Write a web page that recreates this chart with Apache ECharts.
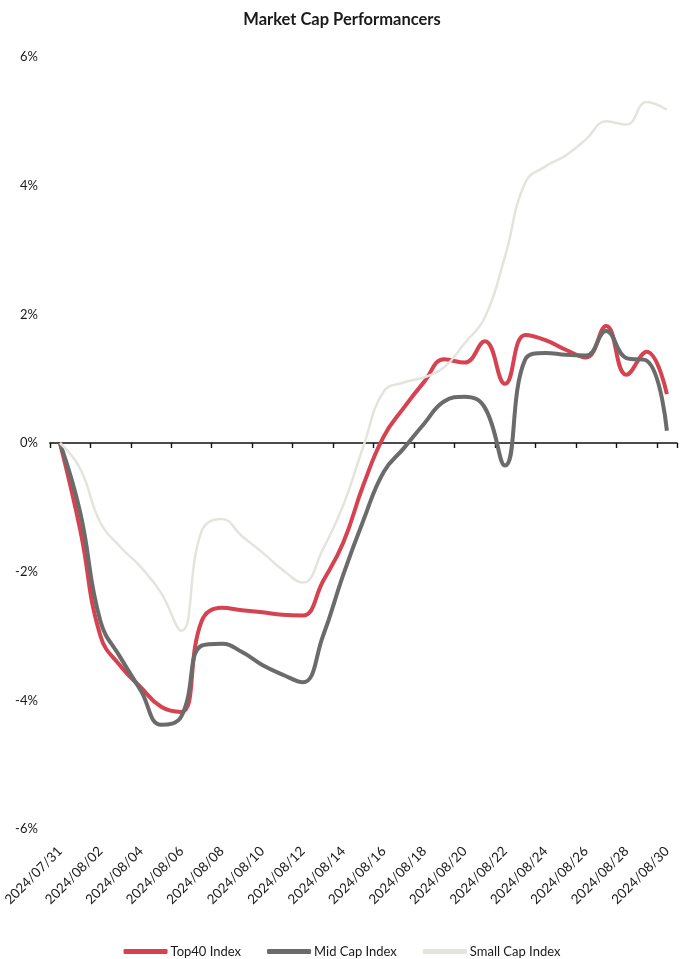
<!DOCTYPE html>
<html>
<head>
<meta charset="utf-8">
<title>Market Cap Performancers</title>
<script src="https://cdn.jsdelivr.net/npm/echarts@6/dist/echarts.min.js"></script>
<style>
  html, body { margin: 0; padding: 0; background: #ffffff; }
  #chart { width: 684px; height: 959px; }
</style>
</head>
<body>
<div id="chart"></div>
<script>
// Trading-period dates (daily)
const dates = [
  '2024/07/31', '2024/08/01', '2024/08/02', '2024/08/03', '2024/08/04',
  '2024/08/05', '2024/08/06', '2024/08/07', '2024/08/08', '2024/08/09',
  '2024/08/10', '2024/08/11', '2024/08/12', '2024/08/13', '2024/08/14',
  '2024/08/15', '2024/08/16', '2024/08/17', '2024/08/18', '2024/08/19',
  '2024/08/20', '2024/08/21', '2024/08/22', '2024/08/23', '2024/08/24',
  '2024/08/25', '2024/08/26', '2024/08/27', '2024/08/28', '2024/08/29',
  '2024/08/30'
];

// Cumulative performance, %
const top40 = [
  0.00, -1.35, -3.00, -3.47, -3.80,
  -4.10, -4.18, -2.77, -2.56, -2.60,
  -2.63, -2.67, -2.68, -2.15, -1.55,
  -0.65, 0.10, 0.55, 0.95, 1.30,
  1.25, 1.58, 0.92, 1.68, 1.60,
  1.45, 1.33, 1.82, 1.06, 1.42,
  0.76
];
const midCap = [
  0.00, -1.08, -2.77, -3.34, -3.85,
  -4.38, -4.25, -3.15, -3.12, -3.25,
  -3.45, -3.60, -3.72, -3.00, -2.05,
  -1.20, -0.45, -0.08, 0.30, 0.65,
  0.72, 0.55, -0.35, 1.30, 1.40,
  1.37, 1.36, 1.74, 1.32, 1.28,
  0.19
];
const smallCap = [
  0.00, -0.40, -1.24, -1.62, -1.93,
  -2.33, -2.92, -1.37, -1.18, -1.45,
  -1.70, -1.97, -2.17, -1.65, -0.97,
  -0.05, 0.80, 0.94, 1.02, 1.18,
  1.55, 1.95, 2.90, 4.05, 4.30,
  4.47, 4.72, 5.00, 4.95, 5.30,
  5.18
];

const seriesNames = ['Top40 Index', 'Mid Cap Index', 'Small Cap Index'];
const seriesColors = ['#d6424f', '#6b6b6b', '#e4e4de'];
const fontFamily = 'Lato, "Open Sans", "Liberation Sans", sans-serif';

const chart = echarts.init(document.getElementById('chart'), null, { renderer: 'canvas' });

chart.setOption({
  backgroundColor: '#ffffff',
  animation: false,
  title: {
    text: 'Market Cap Performancers',
    left: 'center',
    top: 6,
    textStyle: { fontFamily: fontFamily, fontSize: 16.5, fontWeight: 'bold', color: '#1a1a1a' }
  },
  legend: {
    top: 940,
    left: 'center',
    itemWidth: 44,
    itemHeight: 5,
    itemGap: 26,
    icon: 'roundRect',
    textStyle: { fontFamily: fontFamily, fontSize: 13, color: '#1a1a1a', padding: [0, 0, 0, -2] },
    data: seriesNames
  },
  grid: {
    left: 49,
    right: 7,
    top: 57,
    bottom: 130,
    containLabel: false
  },
  xAxis: [
    {
      // date labels along the bottom edge of the plot
      type: 'category',
      data: dates,
      boundaryGap: true,
      position: 'bottom',
      axisLine: { show: false, onZero: false },
      axisTick: { show: false },
      axisLabel: {
        interval: 1,
        rotate: 45,
        margin: 20,
        fontFamily: fontFamily,
        fontSize: 13.5,
        color: '#1a1a1a'
      },
      splitLine: { show: false }
    },
    {
      // zero line with tick marks
      type: 'category',
      data: dates,
      boundaryGap: true,
      position: 'bottom',
      axisLine: { show: true, onZero: true, lineStyle: { color: '#111111', width: 1.6 } },
      axisTick: { show: true, interval: 1, length: 5, lineStyle: { color: '#111111', width: 1.4 } },
      axisLabel: { show: false },
      splitLine: { show: false }
    }
  ],
  yAxis: {
    type: 'value',
    min: -6,
    max: 6,
    interval: 2,
    axisLine: { show: false },
    axisTick: { show: false },
    splitLine: { show: false },
    axisLabel: {
      formatter: '{value}%',
      margin: 12,
      fontFamily: fontFamily,
      fontSize: 13,
      color: '#1a1a1a'
    }
  },
  series: [
    {
      name: seriesNames[0],
      type: 'line',
      data: top40,
      smooth: 0.45,
      showSymbol: false,
      color: seriesColors[0],
      lineStyle: { width: 4, color: seriesColors[0] }
    },
    {
      name: seriesNames[1],
      type: 'line',
      data: midCap,
      smooth: 0.45,
      showSymbol: false,
      color: seriesColors[1],
      lineStyle: { width: 4, color: seriesColors[1] }
    },
    {
      name: seriesNames[2],
      type: 'line',
      data: smallCap,
      smooth: 0.45,
      showSymbol: false,
      color: seriesColors[2],
      lineStyle: { width: 2.5, color: seriesColors[2] }
    }
  ]
});
</script>
</body>
</html>
